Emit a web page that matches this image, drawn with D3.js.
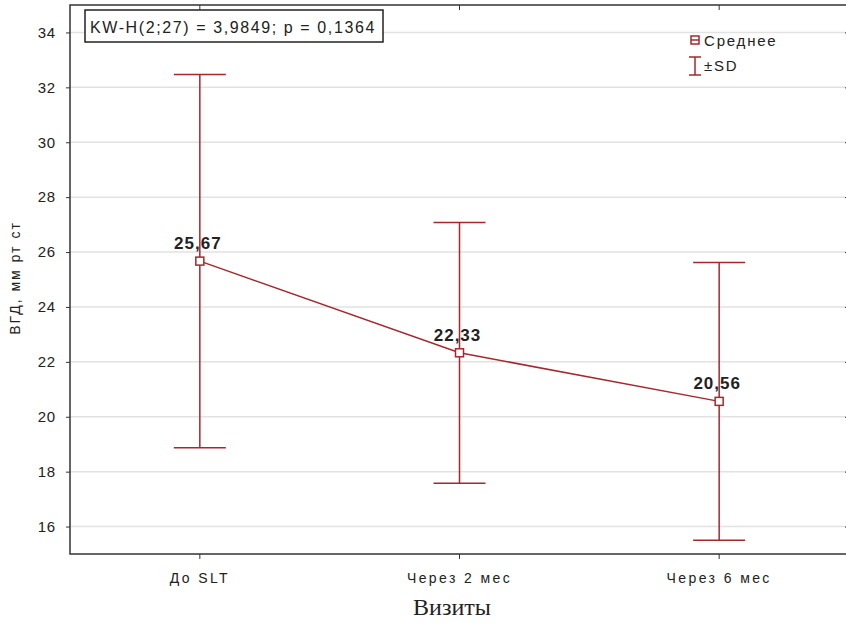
<!DOCTYPE html>
<html>
<head>
<meta charset="utf-8">
<script src="https://cdn.jsdelivr.net/npm/d3@7/dist/d3.min.js"></script>
<style>
  body { margin: 0; background: #fff; }
  svg { display: block; }
</style>
</head>
<body>
<div id="chart"></div>
<script>
// Chart data
const visits = ['До SLT', 'Через 2 мес', 'Через 6 мес'];
const means = [25.67, 22.33, 20.56];
const sds = [6.80, 4.75, 5.06];
const meanLabels = ['25,67', '22,33', '20,56'];
const yTicks = [16, 18, 20, 22, 24, 26, 28, 30, 32, 34];
const statText = 'KW-H(2;27) = 3,9849; p = 0,1364';

const width = 846, height = 624;
const margin = { top: 5, right: -3, bottom: 70, left: 70 };
const color = '#a3292e';
const font = 'Liberation Sans, Arial, sans-serif';

const svg = d3.select('#chart').append('svg')
  .attr('width', width)
  .attr('height', height);

const x = d3.scaleBand()
  .domain(visits)
  .range([margin.left, width - margin.right]);

const y = d3.scaleLinear()
  .domain([15, 35])
  .range([height - margin.bottom, margin.top]);

const cx = d => x(d) + x.bandwidth() / 2;

// Gridlines
svg.append('g')
  .selectAll('line')
  .data(yTicks)
  .join('line')
  .attr('x1', margin.left)
  .attr('x2', width - margin.right)
  .attr('y1', d => y(d))
  .attr('y2', d => y(d))
  .attr('stroke', '#e2e2e2')
  .attr('stroke-width', 1.5);

// Frame
svg.append('rect')
  .attr('x', margin.left)
  .attr('y', margin.top)
  .attr('width', width - margin.right - margin.left)
  .attr('height', y(15) - margin.top)
  .attr('fill', 'none')
  .attr('stroke', '#333')
  .attr('stroke-width', 1.5);

// Y axis
const yAxis = svg.append('g')
  .attr('transform', `translate(${margin.left},0)`)
  .call(d3.axisLeft(y).tickValues(yTicks).tickSize(4).tickPadding(10));
yAxis.select('.domain').remove();
yAxis.selectAll('line').attr('stroke', '#333');
yAxis.selectAll('text')
  .attr('font-family', font)
  .attr('font-size', 15)
  .attr('letter-spacing', 0.8)
  .attr('fill', '#222');

// X axis (bottom)
const xAxis = svg.append('g')
  .attr('transform', `translate(0,${y(15)})`)
  .call(d3.axisBottom(x).tickSize(5).tickPadding(14));
xAxis.select('.domain').remove();
xAxis.selectAll('line').attr('stroke', '#333');
xAxis.selectAll('text')
  .attr('font-family', font)
  .attr('font-size', 14)
  .attr('letter-spacing', 2.4)
  .attr('fill', '#222');

// X axis top ticks
svg.append('g')
  .attr('transform', `translate(0,${margin.top})`)
  .call(d3.axisBottom(x).tickSize(5).tickFormat(''))
  .call(g => g.select('.domain').remove())
  .selectAll('line').attr('stroke', '#333');

// Right side ticks
svg.append('g')
  .attr('transform', `translate(${width - margin.right},0)`)
  .call(d3.axisRight(y).tickValues(yTicks).tickSize(-4).tickFormat(''))
  .call(g => g.select('.domain').remove())
  .selectAll('line').attr('stroke', '#333');

// Axis titles
svg.append('text')
  .attr('transform', 'translate(20,278) rotate(-90)')
  .attr('text-anchor', 'middle')
  .attr('font-family', font)
  .attr('font-size', 14)
  .attr('letter-spacing', 2)
  .attr('fill', '#222')
  .text('ВГД, мм рт ст');

svg.append('text')
  .attr('x', 452)
  .attr('y', 615)
  .attr('text-anchor', 'middle')
  .attr('font-family', 'Liberation Serif, Times New Roman, serif')
  .attr('font-size', 24)
  .attr('fill', '#222')
  .text('Визиты');

// Error bars
const bars = svg.append('g')
  .selectAll('g')
  .data(visits)
  .join('g')
  .attr('stroke', color)
  .attr('stroke-width', 1.5);

bars.append('line')
  .attr('x1', d => cx(d)).attr('x2', d => cx(d))
  .attr('y1', (d, i) => y(means[i] + sds[i]))
  .attr('y2', (d, i) => y(means[i] - sds[i]));
bars.append('line')
  .attr('x1', d => cx(d) - 26).attr('x2', d => cx(d) + 26)
  .attr('y1', (d, i) => y(means[i] + sds[i]))
  .attr('y2', (d, i) => y(means[i] + sds[i]));
bars.append('line')
  .attr('x1', d => cx(d) - 26).attr('x2', d => cx(d) + 26)
  .attr('y1', (d, i) => y(means[i] - sds[i]))
  .attr('y2', (d, i) => y(means[i] - sds[i]));

// Mean line
const line = d3.line()
  .x((d, i) => cx(visits[i]))
  .y(d => y(d));
svg.append('path')
  .datum(means)
  .attr('d', line)
  .attr('fill', 'none')
  .attr('stroke', color)
  .attr('stroke-width', 1.5);

// Mean markers
svg.append('g')
  .selectAll('rect')
  .data(means)
  .join('rect')
  .attr('x', (d, i) => cx(visits[i]) - 4)
  .attr('y', d => y(d) - 4)
  .attr('width', 8)
  .attr('height', 8)
  .attr('fill', '#fff')
  .attr('stroke', color)
  .attr('stroke-width', 1.5);

// Mean value labels
svg.append('g')
  .selectAll('text')
  .data(means)
  .join('text')
  .attr('x', (d, i) => cx(visits[i]) - 2)
  .attr('y', d => y(d) - 12)
  .attr('text-anchor', 'middle')
  .attr('font-family', font)
  .attr('font-size', 17)
  .attr('font-weight', 'bold')
  .attr('letter-spacing', 1)
  .attr('fill', '#222')
  .text((d, i) => meanLabels[i]);

// Statistic box
svg.append('rect')
  .attr('x', 85).attr('y', 10)
  .attr('width', 298).attr('height', 32)
  .attr('fill', '#fff')
  .attr('stroke', '#222')
  .attr('stroke-width', 1.5);
svg.append('text')
  .attr('x', 90).attr('y', 33)
  .attr('font-family', font)
  .attr('font-size', 16)
  .attr('letter-spacing', 1.6)
  .attr('fill', '#222')
  .text(statText);

// Legend
const legend = svg.append('g').attr('transform', 'translate(695,0)');
legend.append('rect')
  .attr('x', -4).attr('y', 36).attr('width', 8).attr('height', 8)
  .attr('fill', '#fff').attr('stroke', color).attr('stroke-width', 1.5);
legend.append('line')
  .attr('x1', -4).attr('x2', 4).attr('y1', 40).attr('y2', 40)
  .attr('stroke', color).attr('stroke-width', 1.5);
legend.append('text')
  .attr('x', 9).attr('y', 46)
  .attr('font-family', font).attr('font-size', 15).attr('letter-spacing', 1.8).attr('fill', '#222')
  .text('Среднее');
const sdIcon = legend.append('g').attr('stroke', color).attr('stroke-width', 1.5);
sdIcon.append('line').attr('x1', 0).attr('x2', 0).attr('y1', 57).attr('y2', 75);
sdIcon.append('line').attr('x1', -6).attr('x2', 6).attr('y1', 57).attr('y2', 57);
sdIcon.append('line').attr('x1', -6).attr('x2', 6).attr('y1', 75).attr('y2', 75);
legend.append('text')
  .attr('x', 9).attr('y', 71)
  .attr('font-family', font).attr('font-size', 15).attr('letter-spacing', 1.8).attr('fill', '#222')
  .text('±SD');
</script>
</body>
</html>
